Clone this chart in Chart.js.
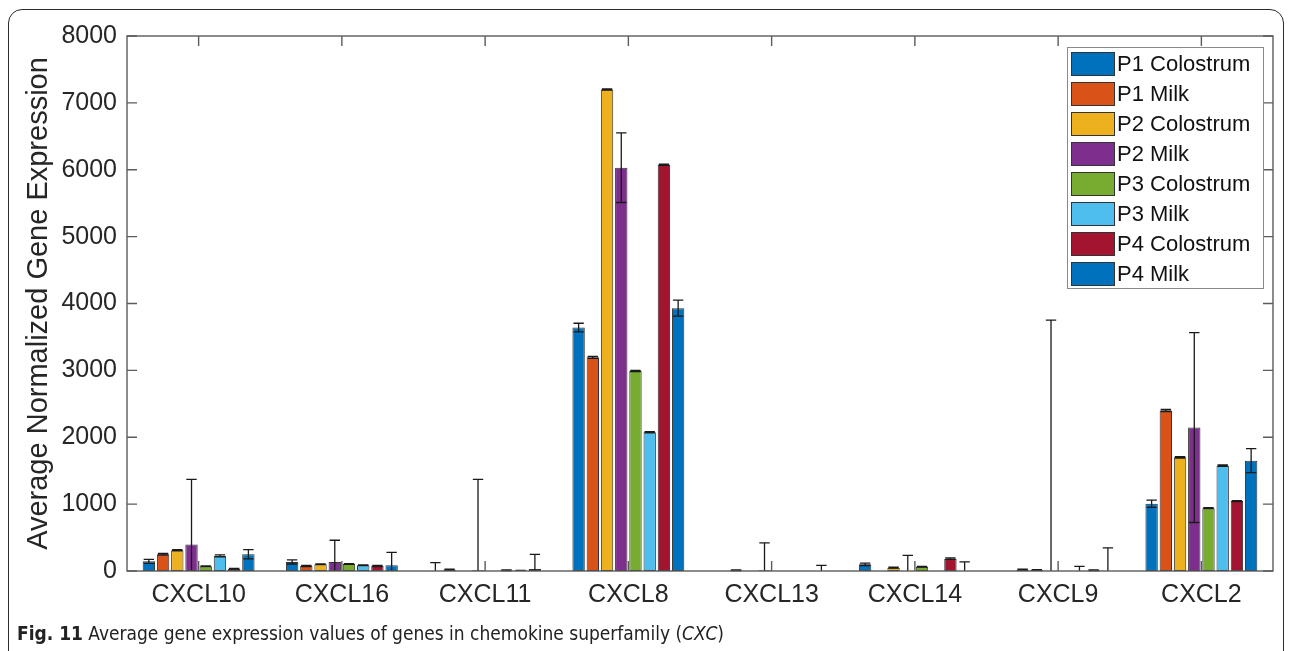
<!DOCTYPE html>
<html lang="en">
<head>
    <meta charset="UTF-8">
    <title>Chemokine superfamily (CXC)</title>
    <script src="https://cdn.jsdelivr.net/npm/chart.js"></script>
    <style>
        html, body {
            margin: 0;
            padding: 0;
            background: #fff;
            width: 1292px;
            height: 651px;
            overflow: hidden;
        }
        .frame {
            position: absolute;
            left: 8px;
            top: 9px;
            width: 1274px;
            height: 700px;
            border: 1.5px solid #2b2b2b;
            border-radius: 14px;
        }
        #chart {
            position: absolute;
            left: 0;
            top: 0;
        }
        .caption {
            position: absolute;
            left: 17px;
            top: 622px;
            font-family: "Liberation Sans Narrow", "DejaVu Sans Condensed", "Liberation Sans", Arial, sans-serif;
            font-size: 20px;
            line-height: 22px;
            color: #222;
            white-space: nowrap;
            transform-origin: left center;
        }
    </style>
</head>
<body>

<div class="frame"></div>
<canvas id="chart" width="1292" height="651"></canvas>
<div class="caption" id="caption"><b>Fig. 11</b> Average gene expression values of genes in chemokine superfamily (<i>CXC</i>)</div>

<script>
    // genes on the x axis
    const genes = ["CXCL10", "CXCL16", "CXCL11", "CXCL8", "CXCL13", "CXCL14", "CXCL9", "CXCL2"];

    // series names + MATLAB default colours
    const seriesNames = ["P1 Colostrum", "P1 Milk", "P2 Colostrum", "P2 Milk",
                         "P3 Colostrum", "P3 Milk", "P4 Colostrum", "P4 Milk"];
    const seriesColors = ["#0072BD", "#D95319", "#EDB120", "#7E2F8E",
                          "#77AC30", "#4DBEEE", "#A2142F", "#0072BD"];

    // mean values
    const p1Colostrum = [145, 135, 5, 3640, 0, 100, 0, 1005];
    const p1Milk      = [250, 75, 20, 3195, 12, 0, 20, 2400];
    const p2Colostrum = [310, 100, 0, 7200, 0, 50, 15, 1700];
    const p2Milk      = [395, 135, 10, 6030, 10, 0, 0, 2145];
    const p3Colostrum = [70, 105, 0, 2990, 0, 65, 0, 940];
    const p3Milk      = [225, 85, 10, 2075, 0, 0, 0, 1575];
    const p4Colostrum = [35, 75, 5, 6075, 0, 185, 10, 1045];
    const p4Milk      = [250, 85, 30, 3930, 0, 0, 0, 1650];

    // error bar half-lengths
    const p1ColostrumErr = [30, 30, 120, 65, 0, 18, 0, 55];
    const p1MilkErr      = [12, 8, 8, 15, 5, 0, 8, 15];
    const p2ColostrumErr = [8, 5, 0, 10, 0, 8, 5, 10];
    const p2MilkErr      = [975, 325, 1360, 520, 410, 235, 3750, 1420];
    const p3ColostrumErr = [5, 5, 0, 10, 0, 5, 0, 8];
    const p3MilkErr      = [15, 5, 5, 10, 0, 0, 70, 10];
    const p4ColostrumErr = [5, 8, 5, 10, 0, 12, 5, 8];
    const p4MilkErr      = [70, 195, 220, 120, 85, 135, 345, 180];

    const yTicks = [0, 1000, 2000, 3000, 4000, 5000, 6000, 7000, 8000];

    const values = [p1Colostrum, p1Milk, p2Colostrum, p2Milk, p3Colostrum, p3Milk, p4Colostrum, p4Milk];
    const errors = [p1ColostrumErr, p1MilkErr, p2ColostrumErr, p2MilkErr, p3ColostrumErr, p3MilkErr, p4ColostrumErr, p4MilkErr];

    const FONT = '"Liberation Sans", Arial, Helvetica, sans-serif';

    // error bars drawn on top of each bar
    const errorBars = {
        id: 'errorBars',
        afterDatasetsDraw(chart) {
            const ctx = chart.ctx;
            const y = chart.scales.y;
            const area = chart.chartArea;
            ctx.save();
            ctx.strokeStyle = '#1a1a1a';
            ctx.lineWidth = 1.3;
            chart.data.datasets.forEach((ds, i) => {
                const meta = chart.getDatasetMeta(i);
                meta.data.forEach((bar, j) => {
                    const err = ds.errors[j];
                    if (!err) return;
                    const v = ds.data[j];
                    const top = y.getPixelForValue(v + err);
                    const low = v - err;
                    const bot = low > 0 ? y.getPixelForValue(low) : area.bottom;
                    const half = bar.width * 0.42;
                    ctx.beginPath();
                    ctx.moveTo(bar.x, top);
                    ctx.lineTo(bar.x, bot);
                    ctx.moveTo(bar.x - half, top);
                    ctx.lineTo(bar.x + half, top);
                    if (low > 0) {
                        ctx.moveTo(bar.x - half, bot);
                        ctx.lineTo(bar.x + half, bot);
                    }
                    ctx.stroke();
                });
            });
            ctx.restore();
        }
    };

    // MATLAB style box with inward ticks on all four sides
    const axesBox = {
        id: 'axesBox',
        afterDatasetsDraw(chart) {
            const {ctx, chartArea: a, scales: {x, y}} = chart;
            ctx.save();
            ctx.strokeStyle = '#5c5c5c';
            ctx.lineWidth = 1.4;
            ctx.strokeRect(a.left, a.top, a.right - a.left, a.bottom - a.top);
            ctx.beginPath();
            y.ticks.forEach(t => {
                const py = y.getPixelForValue(t.value);
                ctx.moveTo(a.left, py); ctx.lineTo(a.left + 10, py);
                ctx.moveTo(a.right, py); ctx.lineTo(a.right - 10, py);
            });
            x.ticks.forEach((t, i) => {
                const px = x.getPixelForTick(i);
                ctx.moveTo(px, a.bottom); ctx.lineTo(px, a.bottom - 10);
                ctx.moveTo(px, a.top); ctx.lineTo(px, a.top + 10);
            });
            ctx.stroke();
            ctx.restore();
        }
    };

    // boxed legend in the upper right corner of the axes
    const boxLegend = {
        id: 'boxLegend',
        afterDraw(chart) {
            const ctx = chart.ctx;
            const a = chart.chartArea;
            const w = 196, h = 241, rowH = 30;
            const left = a.right - 10 - w, top = a.top + 11;
            ctx.save();
            ctx.fillStyle = '#fff';
            ctx.fillRect(left, top, w, h);
            ctx.strokeStyle = '#8a8a8a';
            ctx.lineWidth = 1;
            ctx.strokeRect(left + 0.5, top + 0.5, w, h);
            ctx.font = '22px ' + FONT;
            ctx.textBaseline = 'middle';
            chart.data.datasets.forEach((ds, i) => {
                const cy = top + 17 + i * rowH;
                ctx.fillStyle = ds.backgroundColor;
                ctx.fillRect(left + 4, cy - 11.5, 43, 23);
                ctx.strokeStyle = '#333';
                ctx.strokeRect(left + 4.5, cy - 11.5, 43, 23);
                ctx.fillStyle = '#111';
                ctx.fillText(ds.label, left + 50, cy + 1);
            });
            ctx.restore();
        }
    };

    const ctx = document.getElementById('chart').getContext('2d');
    const chart = new Chart(ctx, {
        type: 'bar',
        data: {
            labels: genes,
            datasets: seriesNames.map((name, i) => ({
                label: name,
                data: values[i],
                errors: errors[i],
                backgroundColor: seriesColors[i],
                borderColor: '#333',
                borderWidth: 1,
                borderSkipped: false,
                categoryPercentage: 0.794,
                barPercentage: 0.87
            }))
        },
        options: {
            responsive: false,
            animation: false,
            devicePixelRatio: 1,
            layout: { padding: { left: 0, top: 36, right: 19, bottom: 0 } },
            plugins: {
                legend: { display: false },
                tooltip: { enabled: false }
            },
            scales: {
                x: {
                    grid: { display: false, drawTicks: false },
                    border: { display: false },
                    ticks: {
                        color: '#262626',
                        font: { family: FONT, size: 25 },
                        padding: 9,
                        maxRotation: 0
                    },
                    afterFit(scale) { scale.height = 80; }
                },
                y: {
                    min: 0,
                    max: 8000,
                    grid: { display: false, drawTicks: false },
                    border: { display: false },
                    afterBuildTicks(scale) { scale.ticks = yTicks.map(v => ({ value: v })); },
                    ticks: {
                        color: '#262626',
                        font: { family: FONT, size: 25 },
                        padding: 10,
                        callback: v => String(v)
                    },
                    title: {
                        display: true,
                        text: 'Average Normalized Gene Expression',
                        color: '#262626',
                        font: { family: FONT, size: 29 },
                        padding: { top: 22, bottom: 0 }
                    },
                    afterFit(scale) { scale.width = 127; }
                }
            }
        },
        plugins: [errorBars, axesBox, boxLegend]
    });

    // squeeze the caption to the width of the condensed original
    const cap = document.getElementById('caption');
    const capW = cap.getBoundingClientRect().width;
    cap.style.transform = 'scaleX(' + (707 / capW) + ')';
</script>

</body>
</html>
